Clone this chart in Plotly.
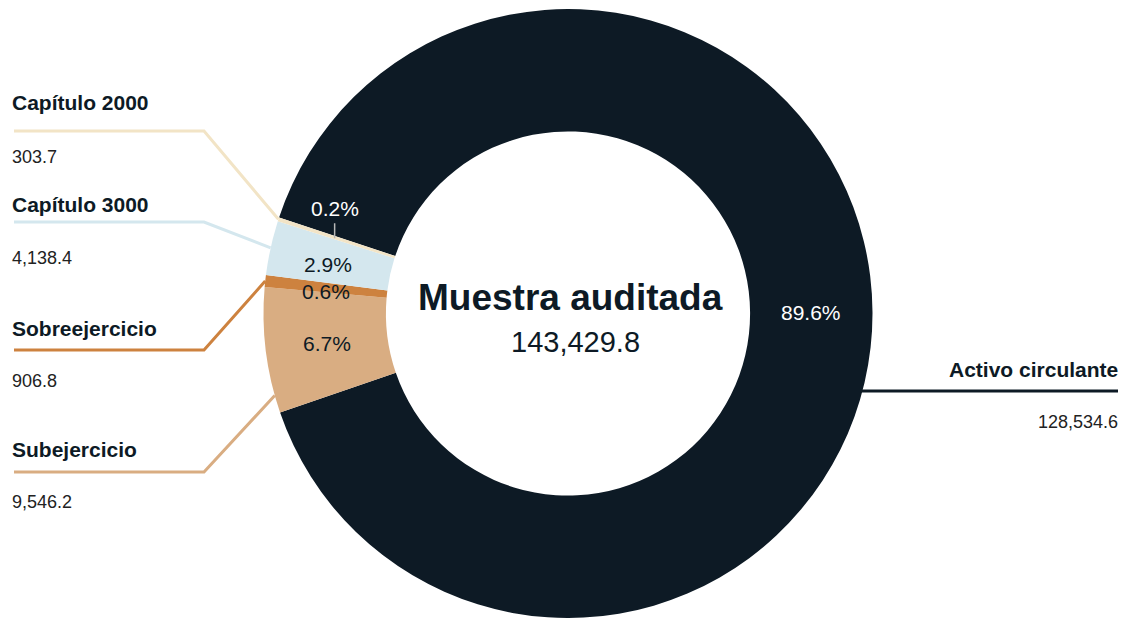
import math
import plotly.graph_objects as go

# ---- data ----
labels = ["Activo circulante", "Subejercicio", "Sobreejercicio", "Capítulo 3000", "Capítulo 2000"]
values = [128534.6, 9546.2, 906.8, 4138.4, 303.7]
value_text = ["128,534.6", "9,546.2", "906.8", "4,138.4", "303.7"]
center_title = "Muestra auditada"
center_value = "143,429.8"

# ---- style ----
colors = ["#0d1a25", "#d9ad82", "#cd823f", "#d4e7ee", "#f2e4c6"]
pct_colors = ["#ffffff", "#0d1a25", "#0d1a25", "#0d1a25", "#ffffff"]
pct_offset = [(0, 0), (0, 0), (0, 4), (-2, 3), (-2, -30)]   # px nudges of % labels
anchor_frac = [0.546, 0.14, 0.5, 0.5, 0.5]                  # where leader line meets slice
side = ["right", "left", "left", "left", "left"]
title_y = [369, 449, 328, 204, 103]
line_y = [391, 472, 350, 222, 131]
val_y = [422, 502, 381, 258, 157]
DARK = "#0d1a25"
FONT = "Liberation Sans, Arial, sans-serif"

W, H = 1124, 618
CX, CY, R = 568, 313.5, 304.5
HOLE = 0.598
ROT = 288.4


def px(x):
    return x / W


def py(y):
    return 1 - y / H


fig = go.Figure(go.Pie(
    labels=labels, values=values, sort=False, direction="clockwise",
    rotation=ROT, hole=HOLE, textinfo="none", hoverinfo="label+value+percent",
    marker=dict(colors=colors, line=dict(width=0)),
    domain=dict(x=[(CX - R) / W, (CX + R) / W],
                y=[max(0.0, 1 - (CY + R) / H), 1 - (CY - R) / H]),
    showlegend=False,
))

total = sum(values)
annotations = []
shapes = []
cum = 0.0
rm = R * (1 + HOLE) / 2
for i, v in enumerate(values):
    start = ROT + 360 * cum / total
    span = 360 * v / total
    cum += v
    mid = math.radians(start + span / 2)
    mx = CX + rm * math.sin(mid)
    my = CY - rm * math.cos(mid)
    dx, dy = pct_offset[i]
    lx, ly = mx + dx, my + dy
    pct = f"{100 * v / total:.1f}%"
    annotations.append(dict(x=px(lx), y=py(ly), xref="paper", yref="paper", text=pct,
                            showarrow=False, xanchor="center", yanchor="middle",
                            font=dict(family=FONT, size=21, color=pct_colors[i])))
    if abs(dy) > 15:
        shapes.append(dict(type="line", xref="paper", yref="paper",
                           x0=px(lx), y0=py(ly + 15), x1=px(lx), y1=py(ly + 30),
                           line=dict(color="#b8b8b8", width=1.5)))
    # leader line
    a = math.radians(start + span * anchor_frac[i])
    ax = CX + R * math.sin(a)
    ay = CY - R * math.cos(a)
    if side[i] == "left":
        path = f"M {px(14)} {py(line_y[i])} L {px(204)} {py(line_y[i])} L {px(ax)} {py(ay)}"
        tx, anchor = 10, "left"
    else:
        path = f"M {px(ax - 2)} {py(line_y[i])} L {px(1118)} {py(line_y[i])}"
        tx, anchor = 1120, "right"
    shapes.append(dict(type="path", xref="paper", yref="paper", path=path,
                       line=dict(color=colors[i], width=3)))
    annotations.append(dict(x=px(tx), y=py(title_y[i]), xref="paper", yref="paper",
                            text=f"<b>{labels[i]}</b>", showarrow=False,
                            xanchor=anchor, yanchor="middle",
                            font=dict(family=FONT, size=21, color=DARK)))
    annotations.append(dict(x=px(tx), y=py(val_y[i]), xref="paper", yref="paper",
                            text=value_text[i], showarrow=False,
                            xanchor=anchor, yanchor="middle",
                            font=dict(family=FONT, size=18, color="#222222")))

annotations.append(dict(x=px(570), y=py(298), xref="paper", yref="paper",
                        text=f"<b>{center_title}</b>", showarrow=False,
                        xanchor="center", yanchor="middle",
                        font=dict(family=FONT, size=37, color=DARK)))
annotations.append(dict(x=px(575), y=py(342), xref="paper", yref="paper",
                        text=center_value, showarrow=False,
                        xanchor="center", yanchor="middle",
                        font=dict(family=FONT, size=29, color=DARK)))

fig.update_layout(width=W, height=H, margin=dict(l=0, r=0, t=0, b=0),
                  paper_bgcolor="white", plot_bgcolor="white",
                  annotations=annotations, shapes=shapes)

fig.write_html("out.html")
